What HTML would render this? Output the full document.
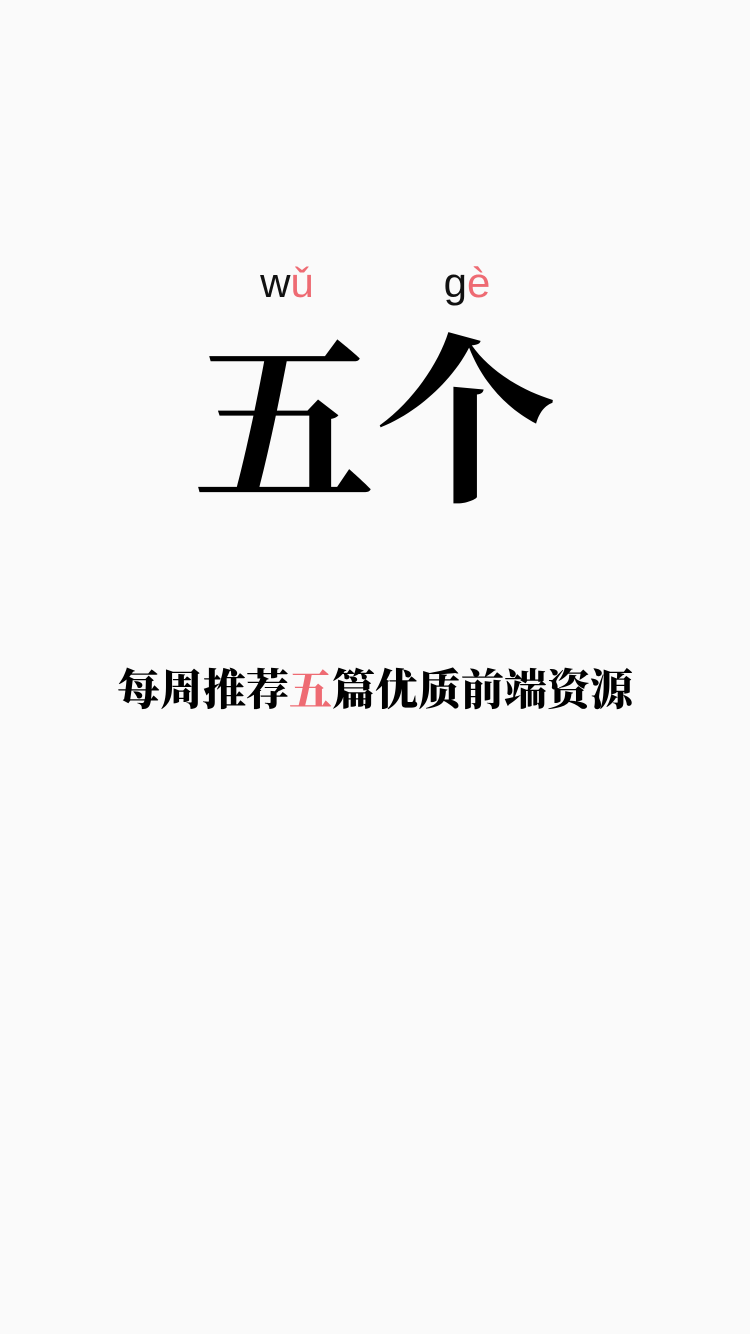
<!DOCTYPE html>
<html>
<head>
<meta charset="utf-8">
<style>
html,body{margin:0;padding:0;}
body{width:750px;height:1334px;background:#fafafa;position:relative;overflow:hidden;}
.py{position:absolute;top:258px;font-family:"Liberation Sans","DejaVu Sans",sans-serif;font-size:42px;line-height:50px;color:#111;transform:translateX(-50%);white-space:nowrap;}
.pk{color:#ee6b73;}
.big{position:absolute;top:305px;left:0;width:750px;text-align:center;font-family:"Noto Serif CJK SC",serif;font-weight:700;font-size:182px;line-height:210px;color:#000;}
.sub{position:absolute;top:660px;left:0;width:750px;text-align:center;font-family:"Noto Serif CJK SC",serif;font-weight:900;font-size:43px;line-height:56px;color:#000;}
</style>
</head>
<body>
<div class="py" style="left:287px">w<span class="pk">ǔ</span></div>
<div class="py" style="left:467px">g<span class="pk">è</span></div>
<div class="big">五个</div>
<div class="sub">每周推荐<span class="pk">五</span>篇优质前端资源</div>
</body>
</html>
